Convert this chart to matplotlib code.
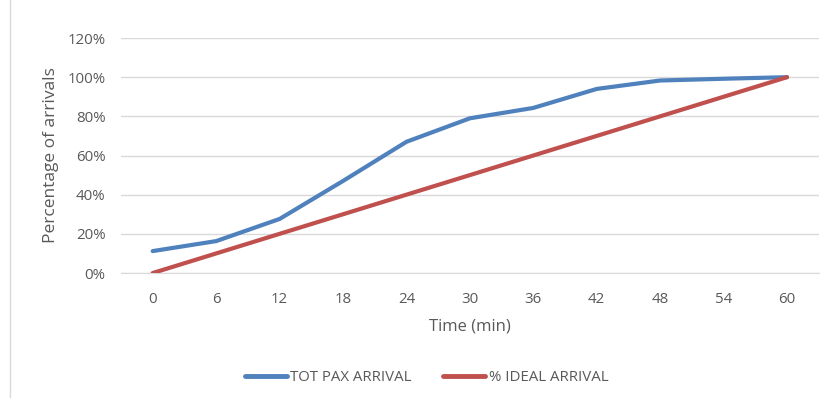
import matplotlib
matplotlib.use("Agg")
import matplotlib.pyplot as plt
from matplotlib.lines import Line2D

times = [0, 6, 12, 18, 24, 30, 36, 42, 48, 54, 60]
tot_pax = [11.2, 16.3, 27.6, 47, 67, 79, 84.3, 94, 98.3, 99.2, 100]
ideal = [0, 10, 20, 30, 40, 50, 60, 70, 80, 90, 100]
yticks = [0, 20, 40, 60, 80, 100, 120]

plt.rcParams['font.family'] = ['Open Sans', 'DejaVu Sans']
grey = '#595959'

fig = plt.figure(figsize=(8.27, 3.98), dpi=100)
ax = fig.add_axes([0.1463, 0.314, 0.990 - 0.1463, 0.5905])

idx = list(range(len(times)))
ax.plot(idx, tot_pax, color='#4F81BD', lw=3, solid_capstyle='round', label='TOT PAX ARRIVAL', zorder=3)
ax.plot(idx, ideal, color='#C0504D', lw=3, solid_capstyle='round', label='% IDEAL ARRIVAL', zorder=3)

ax.set_xlim(-0.5, len(times) - 0.5)
ax.set_ylim(0, 120)
ax.set_yticks(yticks)
ax.set_yticklabels([f"{v}%" for v in yticks])
ax.set_xticks(idx)
ax.set_xticklabels([str(t) for t in times])
ax.grid(axis='y', color='#D9D9D9', lw=1)
ax.set_axisbelow(True)
for s in ['top', 'right', 'left']:
    ax.spines[s].set_visible(False)
ax.spines['bottom'].set_color('#D9D9D9')
ax.tick_params(axis='both', length=0, colors=grey, labelsize=10.8)
ax.tick_params(axis='x', pad=14)
ax.tick_params(axis='y', pad=11)

ax.set_xlabel('Time (min)', color=grey, fontsize=12, labelpad=8)
ax.set_ylabel('Percentage of arrivals', color=grey, fontsize=12.5, labelpad=6)

handles = [Line2D([0], [0], color='#4F81BD', lw=3.5, solid_capstyle='round'),
           Line2D([0], [0], color='#C0504D', lw=3.5, solid_capstyle='round')]
leg = fig.legend(handles, ['TOT PAX ARRIVAL', '% IDEAL ARRIVAL'], loc='center',
                 bbox_to_anchor=(0.516, 0.052), ncol=2, frameon=False,
                 fontsize=10.8, handlelength=2.8, handletextpad=0.25, columnspacing=2.1)
for t in leg.get_texts():
    t.set_color(grey)

fig.add_artist(Line2D([10 / 827, 10 / 827], [0, 1], color='#D9D9D9', lw=1, transform=fig.transFigure))

fig.savefig('out.png', dpi=100)
